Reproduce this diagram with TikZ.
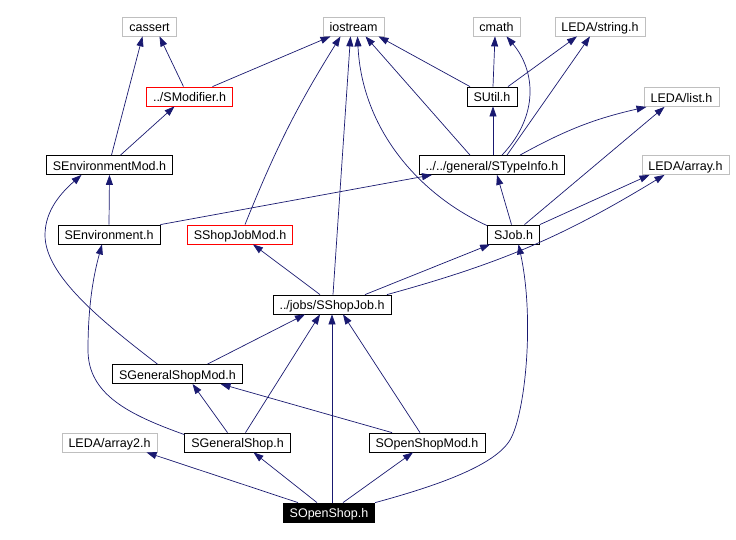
\documentclass[tikz,border=0pt]{standalone}
\usepackage{fontspec}
\setmainfont{Liberation Sans}
\usetikzlibrary{arrows.meta}

\definecolor{edgeblue}{HTML}{191970}
\definecolor{extgray}{HTML}{BFBFBF}

\begin{document}
\begin{tikzpicture}[x=1pt, y=-1pt,
  file/.style={draw=black, line width=0.8pt, fill=white, inner xsep=6.5pt, inner ysep=0pt,
    text height=11pt, text depth=0.2pt, minimum height=19pt, font=\fontsize{12.5}{14}\selectfont},
  ext/.style={file, draw=extgray},
  undoc/.style={file, draw=red},
  root/.style={file, fill=black, text=white},
  dep/.style={edgeblue, line width=0.7pt, -{Triangle[length=10pt,width=7pt]}}]
\useasboundingbox (0,0) rectangle (736,540);

\node[ext] (cassert) at (149.5,26.5) {cassert};
\node[ext] (iostream) at (353.5,26.5) {iostream};
\node[ext] (cmath) at (496.5,26.5) {cmath};
\node[ext] (ledastr) at (600,26.5) {LEDA/string.h};
\node[undoc] (smod) at (189.5,96.5) {../SModifier.h};
\node[file] (sutil) at (492,96.5) {SUtil.h};
\node[ext] (ledalist) at (681.5,97) {LEDA/list.h};
\node[file] (senvmod) at (109.5,165) {SEnvironmentMod.h};
\node[file] (stype) at (492,165) {../../general/STypeInfo.h};
\node[ext] (ledaarr) at (685.5,165) {LEDA/array.h};
\node[file] (senv) at (109,234.5) {SEnvironment.h};
\node[undoc] (sjobmod) at (240,234.5) {SShopJobMod.h};
\node[file] (sjob) at (513.5,234.5) {SJob.h};
\node[file] (sshopjob) at (332,304.5) {../jobs/SShopJob.h};
\node[file] (sgsmod) at (177.5,374) {SGeneralShopMod.h};
\node[ext] (ledaarr2) at (109.5,442.5) {LEDA/array2.h};
\node[file] (sgs) at (237.5,442.5) {SGeneralShop.h};
\node[file] (sosmod) at (427,442.5) {SOpenShopMod.h};
\node[root] (sos) at (329,512.5) {SOpenShop.h};

\draw[dep] ([xshift=-6]smod.north) -- ([xshift=10]cassert.south);
\draw[dep] ([xshift=2]senvmod.north) -- ([xshift=-7]cassert.south);
\draw[dep] ([xshift=11]senvmod.north) -- ([xshift=-15]smod.south);
\draw[dep] ([xshift=23]smod.north) -- ([xshift=-23]iostream.south);
\draw[dep] ([xshift=5]sjobmod.north) to[bend left=5] ([xshift=-13]iostream.south);
\draw[dep] ([xshift=1]sshopjob.north) -- ([xshift=-3]iostream.south);
\draw[dep] ([yshift=-1]sjob.north west) .. controls (420,195) and (362,130) .. ([xshift=4]iostream.south);
\draw[dep] ([xshift=-22]stype.north) -- ([xshift=12]iostream.south);
\draw[dep] ([xshift=-22]sutil.north) -- ([xshift=25]iostream.south);
\draw[dep] ([xshift=1]sutil.north) -- ([xshift=-1.5]cmath.south);
\draw[dep] ([xshift=10]stype.north) .. controls (540,115) and (535,70) .. ([xshift=10]cmath.south);
\draw[dep] ([xshift=16]sutil.north) -- ([xshift=-23]ledastr.south);
\draw[dep] ([xshift=15]stype.north) -- ([xshift=-10]ledastr.south);
\draw[dep] ([xshift=1]stype.north) -- ([xshift=1]sutil.south);
\draw[dep] ([xshift=28]stype.north) to[bend left=8] ([xshift=-35]ledalist.south);
\draw[dep] ([xshift=11]sjob.north) -- ([xshift=-17]ledalist.south);
\draw[dep] ([xshift=-2]sjob.north) -- ([xshift=5]stype.south);
\draw[dep] (sjob.north east) -- ([xshift=-36]ledaarr.south);
\draw[dep] (senv.north) -- (senvmod.south);
\draw[dep] (senv.north east) -- ([xshift=-60]stype.south);
\draw[dep] ([xshift=-12]sshopjob.north) -- ([xshift=13]sjobmod.south);
\draw[dep] ([xshift=33]sshopjob.north) -- ([xshift=3]sjob.south west);
\draw[dep] ([xshift=55]sshopjob.north) to[bend right=8] ([xshift=-21]ledaarr.south);
\draw[dep] ([xshift=-20]sgsmod.north) .. controls (100,320) and (45,275) .. (45,235)
  .. controls (45,210) and (62,192) .. ([xshift=-28]senvmod.south);
\draw[dep] ([yshift=-2]sgs.north west) .. controls (130,415) and (88,395) .. (88,350)
  .. controls (88,300) and (95,270) .. ([xshift=-7]senv.south);
\draw[dep] ([xshift=30]sgsmod.north) -- ([xshift=-27]sshopjob.south);
\draw[dep] ([xshift=8]sgs.north) -- ([xshift=-12]sshopjob.south);
\draw[dep] ([xshift=3]sos.north) -- (sshopjob.south);
\draw[dep] ([xshift=-7]sosmod.north) -- ([xshift=11]sshopjob.south);
\draw[dep] ([xshift=-10]sgs.north) -- ([xshift=15]sgsmod.south);
\draw[dep] ([xshift=-35]sosmod.north) -- ([xshift=43]sgsmod.south);
\draw[dep] ([xshift=-31]sos.north) -- ([xshift=37]ledaarr2.south);
\draw[dep] ([xshift=-12]sos.north) -- ([xshift=16]sgs.south);
\draw[dep] ([xshift=14]sos.north) -- ([xshift=-14]sosmod.south);
\draw[dep] (sos.north east) .. controls (440,485) and (495,465) .. (510,440)
  .. controls (525,415) and (535,320) .. ([xshift=5]sjob.south);
\end{tikzpicture}
\end{document}
